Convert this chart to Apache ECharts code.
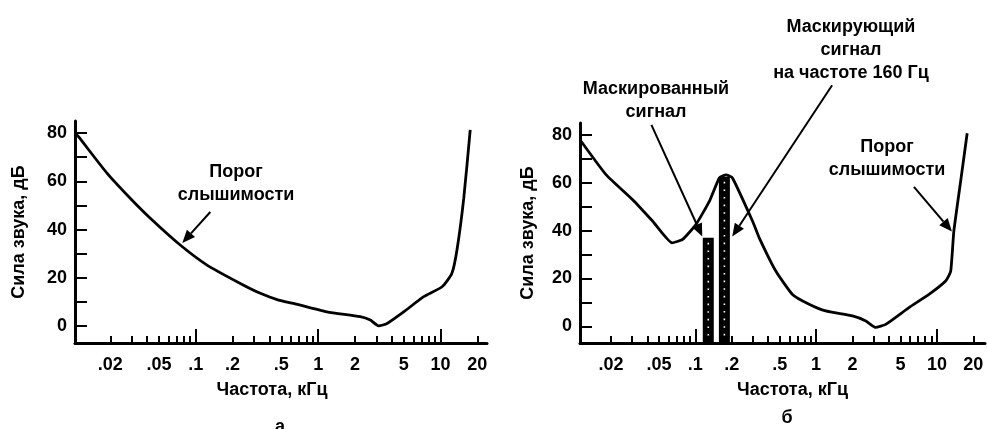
<!DOCTYPE html>
<html><head><meta charset="utf-8">
<script src="https://cdn.jsdelivr.net/npm/echarts@6/dist/echarts.min.js"></script>
<style>html,body{margin:0;padding:0;background:#fff}#c{width:987px;height:429px}</style>
</head><body><div id="c"></div>
<script>
// ---- data ----
const freqA = [0.0105, 0.011, 0.0188, 0.0291, 0.0425, 0.0746, 0.1235, 0.231, 0.337, 0.475, 0.63, 1.18, 2.21, 2.67, 3.12, 3.66, 5.0, 7.3, 10.3, 12.4, 13.7, 15.5, 17.5];
const dbA   = [79.5, 78.5, 63.4, 53, 44.7, 33.6, 25.3, 17.7, 13.6, 10.8, 9.4, 5.9, 3.9, 2.5, 0.1, 1.1, 5.9, 12.2, 16.3, 21.9, 32.2, 53, 81.3];
const freqB = [0.0111, 0.0183, 0.0303, 0.0444, 0.0642, 0.0785, 0.101, 0.1306, 0.158, 0.1794, 0.203, 0.298, 0.338, 0.465, 0.637, 0.875, 1.2, 2.0, 2.58, 3.11, 3.77, 5.87, 8.59, 11.8, 13.0, 13.8, 15.7, 17.8];
const dbB   = [78, 63.3, 52.9, 43.9, 34.9, 36.3, 42.5, 52.2, 62, 63.3, 62, 43.9, 37, 23, 13.3, 9.2, 6.4, 4.3, 2.2, -0.5, 0.8, 7.8, 13.3, 18.9, 23, 39.7, 60.5, 80.7];
const barNames = ['Маскированный сигнал', 'Маскирующий сигнал 160 Гц'];
const barFreq = [0.128, 0.174];
const barDb   = [37, 62.5];
const xTickLabels = [0.02, 0.05, 0.1, 0.2, 0.5, 1, 2, 5, 10, 20];
const xMinorTicks = [0.02,0.03,0.04,0.05,0.06,0.07,0.08,0.09,0.2,0.3,0.4,0.5,0.6,0.7,0.8,0.9,2,3,4,5,6,7,8,9,20];
const xMajorTicks = [0.1, 1, 10];
const yTickLabels = [0, 20, 40, 60, 80];
const yTicks = [0, 10, 20, 30, 40, 50, 60, 70, 80];
const yMin = -7, yMax = 85;

// ---- styles ----
const FONT = 'Liberation Sans, Arial, sans-serif';
const txt = {fontFamily: FONT, fontWeight: 'bold', fontSize: 18, color: '#000'};
const fmtX = v => { const n = +(+v).toPrecision(3); return n < 1 ? String(n).replace(/^0/, '') : String(n); };

function xAxes(grid, min, max, namePad) {
  return [{
    gridIndex: grid, type: 'log', min: min, max: max, position: 'bottom',
    name: 'Частота, кГц', nameLocation: 'middle', nameGap: 38,
    nameTextStyle: Object.assign({}, txt, {padding: namePad}),
    axisLine: {show: true, onZero: false, lineStyle: {color: '#000', width: 3}},
    axisTick: {show: true, inside: true, length: 7, lineStyle: {color: '#000', width: 2}, customValues: xMinorTicks},
    axisLabel: Object.assign({}, txt, {margin: 13, formatter: fmtX, customValues: xTickLabels}),
    splitLine: {show: false}, minorTick: {show: false}
  }, {
    gridIndex: grid, type: 'log', min: min, max: max, position: 'bottom',
    axisLine: {show: false, onZero: false},
    axisTick: {show: true, inside: true, length: 14, lineStyle: {color: '#000', width: 2}, customValues: xMajorTicks},
    axisLabel: {show: false}, splitLine: {show: false}
  }];
}
function yAxis(grid, gap) {
  return {
    gridIndex: grid, type: 'value', min: yMin, max: yMax,
    name: 'Сила звука, дБ', nameLocation: 'middle', nameGap: gap, nameRotate: 90,
    nameTextStyle: txt,
    axisLine: {show: true, onZero: false, lineStyle: {color: '#000', width: 3}},
    axisTick: {show: true, inside: true, length: 12, lineStyle: {color: '#000', width: 2}, customValues: yTicks},
    axisLabel: Object.assign({}, txt, {margin: 8, customValues: yTickLabels}),
    splitLine: {show: false}
  };
}

const chart = echarts.init(document.getElementById('c'), null, {renderer: 'canvas'});
chart.setOption({
  backgroundColor: '#fff',
  animation: false,
  grid: [
    {left: 75, top: 121, width: 412, height: 222},
    {left: 580, top: 123, width: 405, height: 220}
  ],
  xAxis: xAxes(0, 0.0103, 24, [0, 18, 0, 0]).concat(xAxes(1, 0.0111, 25, [0, 0, 0, 20])),
  yAxis: [yAxis(0, 47), yAxis(1, 43)],
  series: [
    {type: 'line', xAxisIndex: 0, yAxisIndex: 0, data: freqA.map((f, i) => [f, dbA[i]]),
     showSymbol: false, smooth: 0.2, lineStyle: {color: '#000', width: 2.8}},
    {type: 'custom', xAxisIndex: 2, yAxisIndex: 1, data: barFreq.map((f, i) => [f, barDb[i], barNames[i]]),
     renderItem: function (params, api) {
       const top = api.coord([api.value(0), api.value(1)]);
       const bot = api.coord([api.value(0), yMin]);
       const w = 11;
       return {type: 'group', children: [
         {type: 'rect', shape: {x: top[0] - w / 2, y: top[1], width: w, height: bot[1] - top[1]}, style: {fill: '#000'}},
         {type: 'line', shape: {x1: top[0], y1: top[1] + 5, x2: top[0], y2: bot[1] - 4},
          style: {stroke: '#fff', lineWidth: 1.6, lineDash: [1.6, 6]}}
       ]};
     }},
    {type: 'line', xAxisIndex: 2, yAxisIndex: 1, data: freqB.map((f, i) => [f, dbB[i]]),
     showSymbol: false, smooth: 0.15, lineStyle: {color: '#000', width: 2.8}}
  ]
});

// ---- annotations (arrows anchored in data coordinates) ----
const arrows = [
  {grid: 0, from: [0.1314, 47.3], to: [0.0776, 34.4]},
  {grid: 1, from: [0.0433, 84.2], to: [0.1142, 37.5]},
  {grid: 1, from: [1.356, 100.8], to: [0.202, 37.5]},
  {grid: 1, from: [6.45, 58.3], to: [13.3, 39.6]}
];
const g = [];
arrows.forEach(a => {
  const p1 = chart.convertToPixel({gridIndex: a.grid}, a.from);
  const p2 = chart.convertToPixel({gridIndex: a.grid}, a.to);
  const dx = p2[0] - p1[0], dy = p2[1] - p1[1], L = Math.hypot(dx, dy);
  const ux = dx / L, uy = dy / L, hl = 13, hw = 5.5;
  const bx = p2[0] - ux * hl, by = p2[1] - uy * hl;
  g.push({type: 'line', shape: {x1: p1[0], y1: p1[1], x2: bx, y2: by}, style: {stroke: '#000', lineWidth: 2}, silent: true});
  g.push({type: 'polygon', shape: {points: [[p2[0], p2[1]], [bx - uy * hw, by + ux * hw], [bx + uy * hw, by - ux * hw]]}, style: {fill: '#000'}, silent: true});
});
const label = (text, x, y) => ({type: 'text', x: x, y: y, silent: true,
  style: {text: text, font: 'bold 18px ' + FONT, fill: '#000', align: 'center', verticalAlign: 'middle',
          textAlign: 'center', textVerticalAlign: 'middle', lineHeight: 23}});
g.push(label('Порог\nслышимости', 236, 184));
g.push(label('Маскированный\nсигнал', 656, 101));
g.push(label('Маскирующий\nсигнал\nна частоте 160 Гц', 851, 50));
g.push(label('Порог\nслышимости', 887, 159));
g.push(label('а', 280, 427));
g.push(label('б', 787, 418));
chart.setOption({graphic: g});
</script></body></html>
